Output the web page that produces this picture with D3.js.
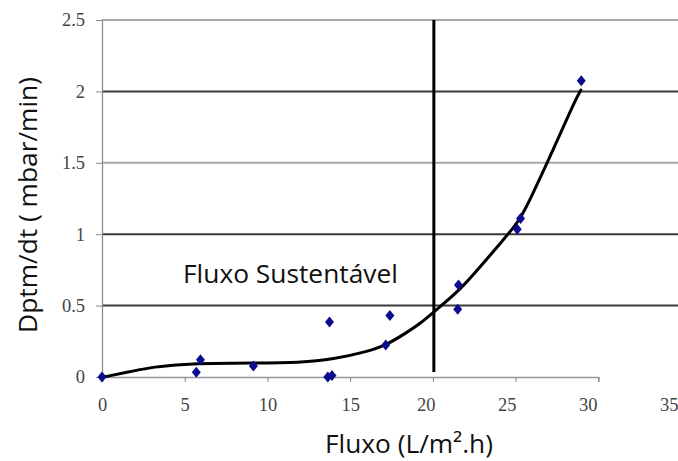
<!DOCTYPE html>
<html><head><meta charset="utf-8">
<script src="https://cdn.jsdelivr.net/npm/d3@7"></script>
<style>
html,body{margin:0;padding:0;background:#fff;overflow:hidden}
</style></head>
<body>
<svg id="chart" width="678" height="461"></svg>
<script>
// ---- data ----
const pointsX = [0, 5.7, 5.95, 9.15, 13.75, 13.65, 13.9, 17.15, 17.4, 21.5, 21.55, 25.1, 25.3, 28.97];
const pointsY = [0, 0.033, 0.12, 0.077, 0.385, 0.0, 0.01, 0.224, 0.43, 0.474, 0.645, 1.035, 1.11, 2.075];
const curveX = [0.1, 1.7, 3.1, 5.1, 6.5, 9, 12, 14, 16, 17.2, 18.4, 19.3, 20.1, 21.65, 22.85, 24.1, 25.3, 26.1, 27, 28.6, 28.95];
const curveY = [0, 0.037, 0.072, 0.09, 0.096, 0.097, 0.1, 0.124, 0.177, 0.224, 0.31, 0.38, 0.46, 0.61, 0.77, 0.94, 1.1, 1.3, 1.52, 1.94, 2.01];
const xTicks = [0, 5, 10, 15, 20, 25, 30, 35];
const yTicks = [0, 0.5, 1, 1.5, 2, 2.5];
const yTickLabels = ["0", "0.5", "1", "1.5", "2", "2.5"];
const darkGrid = [0.5, 1, 2];
const limitX = 20;
const xTitle = "Fluxo (L/m².h)";
const yTitle = "Dptm/dt ( mbar/min)";
const annotation = "Fluxo Sustentável";

const svg = d3.select("#chart");
const x = d3.scaleLinear().domain([0, 30]).range([102, 598.3]);
const y = d3.scaleLinear().domain([0, 2.5]).range([377, 20]);

// gridlines
svg.append("g").selectAll("line").data(yTicks.filter(d => d > 0)).join("line")
  .attr("x1", x(0)).attr("x2", 678)
  .attr("y1", d => y(d)).attr("y2", d => y(d))
  .attr("stroke", d => darkGrid.includes(d) ? "#3a3a3a" : "#a8a8a8")
  .attr("stroke-width", 2);

// x axis
const xAxis = svg.append("g").attr("transform", `translate(0,${y(0)})`)
  .call(d3.axisBottom(x).tickValues(xTicks).tickSize(5).tickPadding(16).tickFormat(d3.format("d")));
xAxis.select(".domain").attr("stroke", "#999").attr("stroke-width", 1.5);
xAxis.selectAll(".tick line").attr("stroke", "#888");
xAxis.selectAll("text").attr("font-family", "'Liberation Serif', serif").attr("font-size", 18.5).attr("fill", "#444")
  .attr("dx", d => d >= 20 ? -(7 + (d - 20) * 0.35) : 0);

// y axis
const yAxis = svg.append("g").attr("transform", `translate(${x(0)},0)`)
  .call(d3.axisLeft(y).tickValues(yTicks).tickSize(6).tickPadding(11).tickFormat((d, i) => yTickLabels[i]));
yAxis.select(".domain").attr("stroke", "#888").attr("stroke-width", 1.2);
yAxis.selectAll(".tick line").attr("stroke", "#888");
yAxis.selectAll("text").attr("font-family", "'Liberation Serif', serif").attr("font-size", 18.5).attr("fill", "#444");

// vertical limit line
svg.append("line")
  .attr("x1", x(limitX) + 1).attr("x2", x(limitX) + 1)
  .attr("y1", y(2.5)).attr("y2", y(0.035))
  .attr("stroke", "#000").attr("stroke-width", 3);

// fitted curve
const curveData = curveX.map((v, i) => [v, curveY[i]]);
svg.append("path").datum(curveData)
  .attr("d", d3.line().x(d => x(d[0])).y(d => y(d[1])).curve(d3.curveBasis))
  .attr("fill", "none").attr("stroke", "#000").attr("stroke-width", 3)
  .attr("stroke-linecap", "round");

// points
const pts = pointsX.map((v, i) => [v, pointsY[i]]);
svg.append("g").selectAll("path").data(pts).join("path")
  .attr("transform", d => `translate(${x(d[0])},${y(d[1])})`)
  .attr("d", "M0,-5.5L4.5,0L0,5.5L-4.5,0Z")
  .attr("fill", "#0b0b8e");

// texts fitted to target widths
function fitText(sel, target) {
  const w = sel.node().getComputedTextLength();
  const fs = parseFloat(sel.attr("font-size"));
  sel.attr("font-size", fs * target / w);
}
const sans = "'Open Sans', 'Noto Sans', sans-serif";
const ann = svg.append("text").attr("x", 183).attr("y", 283)
  .attr("font-family", sans).attr("font-size", 24).attr("fill", "#111").text(annotation);
fitText(ann, 215);

const xt = svg.append("text").attr("x", 409).attr("y", 453).attr("text-anchor", "middle")
  .attr("font-family", sans).attr("font-size", 24).attr("fill", "#111").text(xTitle);
fitText(xt, 168);

const yt = svg.append("text").attr("transform", "translate(37,205) rotate(-90)").attr("text-anchor", "middle")
  .attr("font-family", sans).attr("font-size", 24).attr("fill", "#111").text(yTitle);
fitText(yt, 256);
</script>
</body></html>
